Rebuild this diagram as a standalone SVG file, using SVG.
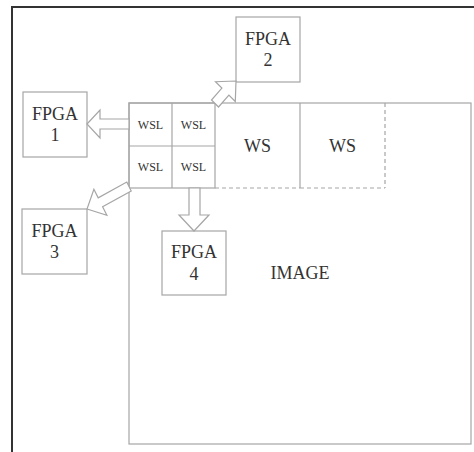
<svg xmlns="http://www.w3.org/2000/svg" width="474" height="452" viewBox="0 0 474 452">
<style>
.box{fill:#fff;stroke:#a6a6a6;stroke-width:1.2}
.ln{fill:none;stroke:#a6a6a6;stroke-width:1.2}
.dash{fill:none;stroke:#a6a6a6;stroke-width:1.2;stroke-dasharray:4 3}
.arr{fill:#fff;stroke:#a6a6a6;stroke-width:1.2;stroke-linejoin:miter}
.t{font-family:"Liberation Serif","Times New Roman",serif;fill:#333;text-anchor:middle}
.big{font-size:18px}
.small{font-size:12px}
</style>
<rect x="0" y="0" width="474" height="452" fill="#fff"/>
<rect x="12" y="7" width="480" height="460" fill="none" stroke="#333" stroke-width="2"/>
<g id="image">
<rect class="box" x="129" y="103" width="342" height="341" stroke="#c4c4c4" stroke-width="1.8"/>
<text class="t big" x="300" y="279">IMAGE</text>
</g>
<g id="wsl-grid">
<rect class="ln" x="129" y="103" width="86" height="85"/>
<line class="ln" x1="172" y1="103" x2="172" y2="188"/>
<line class="ln" x1="129" y1="146" x2="215" y2="146"/>
<text class="t small" x="150.5" y="128.5">WSL</text>
<text class="t small" x="193.5" y="128.5">WSL</text>
<text class="t small" x="150.5" y="171">WSL</text>
<text class="t small" x="193.5" y="171">WSL</text>
</g>
<g id="ws1">
<line class="ln" x1="300" y1="103" x2="300" y2="188"/>
<line class="dash" x1="215" y1="188" x2="300" y2="188"/>
<text class="t big" x="257.5" y="152">WS</text>
</g>
<g id="ws2">
<line class="dash" x1="385" y1="103" x2="385" y2="188"/>
<line class="dash" x1="300" y1="188" x2="385" y2="188"/>
<text class="t big" x="342.5" y="152">WS</text>
</g>
<g id="fpga1">
<rect class="box" x="23" y="92" width="64" height="65"/>
<text class="t big" x="55" y="120">FPGA</text>
<text class="t big" x="55" y="141">1</text>
</g>
<g id="fpga2">
<rect class="box" x="236" y="17" width="64" height="65"/>
<text class="t big" x="268" y="45">FPGA</text>
<text class="t big" x="268" y="66">2</text>
</g>
<g id="fpga3">
<rect class="box" x="22" y="209" width="65" height="65"/>
<text class="t big" x="54.5" y="237">FPGA</text>
<text class="t big" x="54.5" y="258">3</text>
</g>
<g id="fpga4">
<rect class="box" x="162" y="231" width="64" height="64"/>
<text class="t big" x="194" y="258">FPGA</text>
<text class="t big" x="194" y="280">4</text>
</g>
<g id="connectors">
<polygon class="arr" points="87,124 100,110 100,119 129,119 129,129 100,129 100,138"/>
<polygon class="arr" points="236,81 235.3,101.5 228.9,95.1 218.5,107 211.5,100 221.9,88.1 215.5,81.7"/>
<polygon class="arr" points="87,209 106.9,215.3 102.6,206.8 131.2,191 126.8,182 98.2,197.8 93.9,189.3"/>
<polygon class="arr" points="194,231 209,215 200,215 200,188 189,188 189,215 179,215"/>
</g>
</svg>
